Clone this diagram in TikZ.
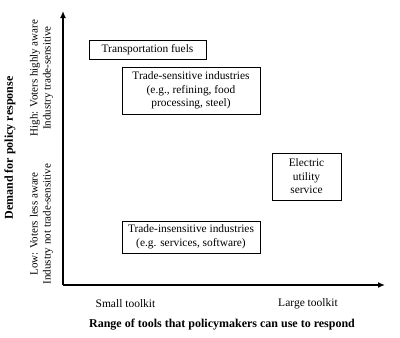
\documentclass[tikz,border=0pt]{standalone}
\usepackage{fontspec}
\setmainfont{Liberation Serif}
\usetikzlibrary{arrows.meta,positioning}

\tikzset{
    casebox/.style={draw, thin, align=center, inner sep=2pt, font=\fontsize{11.4}{13.5}\selectfont},
    axislabel/.style={font=\fontsize{11.5}{13}\selectfont},
    sidelabel/.style={rotate=90, align=center, font=\fontsize{11}{13}\selectfont},
}

\begin{document}
\begin{tikzpicture}[x=1pt, y=-1pt]

        \useasboundingbox (0,0) rectangle (400,338);

        % Axes
        \coordinate (origin) at (63,285);
        \coordinate (xtip) at (385,285);
        \coordinate (ytip) at (63,11);
        \draw [line width=1.3pt, -{Latex[length=7pt, width=6pt]}] (origin) -- (xtip);
        \draw [line width=1.3pt, -{Latex[length=7pt, width=6pt]}] (origin) -- (ytip);

        % Industry boxes
        \node [casebox, minimum width=117pt, minimum height=19pt] (fuels) at (147.5,49.5) {Transportation fuels};
        \node [casebox, minimum width=138pt, minimum height=47pt] (tradesens) at (191,90.5) {Trade-sensitive industries\\(e.g., refining, food\\processing, steel)};
        \node [casebox, minimum width=69pt, minimum height=47pt] (utility) at (306.5,176.5) {Electric\\utility\\service};
        \node [casebox, minimum width=138pt, minimum height=32pt] (tradeinsens) at (191,237) {Trade-insensitive industries\\(e.g. services, software)};

        % Horizontal axis labels
        \node [axislabel] (small) at (125.5,304) {Small toolkit};
        \node [axislabel] (large) at (308,304) {Large toolkit};
        \node [axislabel, font=\fontsize{12}{13}\selectfont\bfseries] (xtitle) at (222,325) {Range of tools that policymakers can use to respond};

        % Vertical axis labels
        \node [sidelabel] (high) at (41.5,78) {High: Voters highly aware\\Industry trade-sensitive};
        \node [sidelabel] (low) at (41.5,224) {Low: Voters less aware\\Industry not trade-sensitive};
        \node [sidelabel, font=\fontsize{12}{13}\selectfont\bfseries] (ytitle) at (10,148) {Demand for policy response};

    \end{tikzpicture}
\end{document}
